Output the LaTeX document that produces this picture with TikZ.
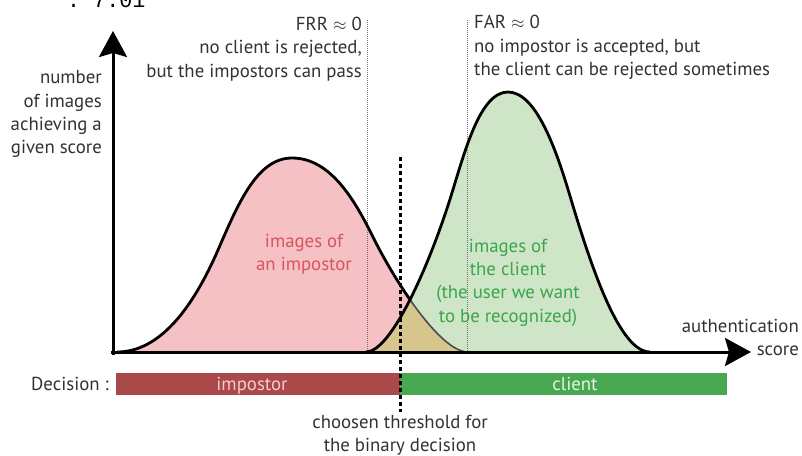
\documentclass[tikz,border=0pt]{standalone}
\usepackage{fontspec}
\setmainfont{PT Sans}
\setmonofont{Liberation Mono}
\usetikzlibrary{arrows.meta}
\definecolor{pinkfill}{RGB}{245,193,197}
\definecolor{greenfill}{RGB}{206,230,199}
\definecolor{olivefill}{RGB}{214,197,140}
\definecolor{redbar}{RGB}{170,73,73}
\definecolor{greenbar}{RGB}{72,168,82}
\definecolor{txtgray}{RGB}{50,50,50}
\definecolor{implbl}{RGB}{215,85,95}
\definecolor{clilbl}{RGB}{60,165,75}
\definecolor{redtxt}{RGB}{242,205,205}
\definecolor{greentxt}{RGB}{225,245,225}
\newcommand\impcurve{(117,352) .. controls (160,352) and (193,307.5) .. (218,250) .. controls (238,204) and (257,158) .. (292,158) .. controls (330,158) and (354,199) .. (372,235) .. controls (394,280) and (440,352) .. (468,352)}
\newcommand\clicurve{(366,352) .. controls (391,352) and (429,266.4) .. (451,196) .. controls (465,151) and (480,92) .. (508,92) .. controls (536,92) and (556,149) .. (570,196) .. controls (592,270) and (620,352) .. (650,352)}
\begin{document}
\begin{tikzpicture}[x=1pt,y=-1pt,
  lbl/.style={font=\fontsize{18.8}{23}\selectfont, text=txtgray, inner sep=0pt},
  curve/.style={line width=2.8pt, black},
  axis/.style={line width=3pt, black, -{Stealth[length=26pt,width=28pt,inset=4pt]}},
  guide/.style={line width=0.8pt, black!55, dash pattern=on 1pt off 1pt},
  thresh/.style={line width=3pt, black, dash pattern=on 4pt off 3pt}]
\useasboundingbox (0,0) rectangle (802,455);
\clip (0,0) rectangle (802,455);
% fills
\fill[pinkfill] \impcurve -- cycle;
\fill[greenfill] \clicurve -- cycle;
\begin{scope}
  \clip \clicurve -- cycle;
  \fill[olivefill] \impcurve -- cycle;
\end{scope}
% guide lines
\coordinate (frrtop) at (367,20);
\coordinate (frrbot) at (367,352);
\coordinate (fartop) at (467,20);
\coordinate (farbot) at (467,352);
\draw[guide] (frrtop) -- (frrbot);
\draw[guide] (fartop) -- (farbot);
% curves
\draw[line width=1.6pt, black!70] \impcurve;
\begin{scope}
  \clip (0,0) rectangle (410,455);
  \draw[curve] \impcurve;
\end{scope}
\draw[curve] \clicurve;
% axes
\coordinate (orig) at (113,355);
\coordinate (xorig) at (111,352);
\coordinate (ytip) at (113,31);
\coordinate (xtip) at (751,352);
\draw[axis] (orig) -- (ytip);
\draw[axis] (xorig) -- (xtip);
% decision bars
\fill[redbar] (116,373) rectangle (400,395);
\fill[greenbar] (400,373) rectangle (727,395);
\node[lbl, text=redtxt, anchor=base] (bimp) at (252,390) {impostor};
\node[lbl, text=greentxt, anchor=base] (bcli) at (575,390) {client};
\node[lbl, anchor=base east] (dec) at (109,390) {Decision :};
% threshold
\coordinate (thtop) at (400,157);
\coordinate (thbot) at (400,412);
\draw[thresh] (thtop) -- (thbot);
\node[lbl, anchor=base] (th1) at (400,428) {choosen threshold for};
\node[lbl, anchor=base] (th2) at (400,451) {the binary decision};
% y label
\node[lbl, anchor=base east] (y1) at (102,83) {number};
\node[lbl, anchor=base east] (y2) at (102,107) {of images};
\node[lbl, anchor=base east] (y3) at (102,130) {achieving a};
\node[lbl, anchor=base east] (y4) at (102,153) {given score};
% x label
\node[lbl, anchor=base east] (x1) at (799,332) {authentication};
\node[lbl, anchor=base east] (x2) at (799,355) {score};
% FRR
\node[lbl, anchor=base east] (f1) at (362,30) {FRR $\approx$ 0};
\node[lbl, anchor=base east] (f2) at (362,53) {no client is rejected,};
\node[lbl, anchor=base east] (f3) at (362,77) {but the impostors can pass};
% FAR
\node[lbl, anchor=base west] (a1) at (474,28) {FAR $\approx$ 0};
\node[lbl, anchor=base west] (a2) at (474,52) {no impostor is accepted, but};
\node[lbl, anchor=base west] (a3) at (474,75) {the client can be rejected sometimes};
% curve labels
\node[lbl, text=implbl, anchor=base] (i1) at (304,247) {images of};
\node[lbl, text=implbl, anchor=base] (i2) at (304,270) {an impostor};
\node[lbl, text=clilbl, anchor=base] (c1) at (508,252) {images of};
\node[lbl, text=clilbl, anchor=base] (c2) at (508,275) {the client};
\node[lbl, text=clilbl, anchor=base] (c3) at (508,298) {(the user we want};
\node[lbl, text=clilbl, anchor=base] (c4) at (508,322) {to be recognized)};
% top cut text
\node[font=\ttfamily\fontsize{21.7}{24}\selectfont, inner sep=0pt, anchor=base west] (top) at (67,7) {: 7.01};
\end{tikzpicture}
\end{document}
